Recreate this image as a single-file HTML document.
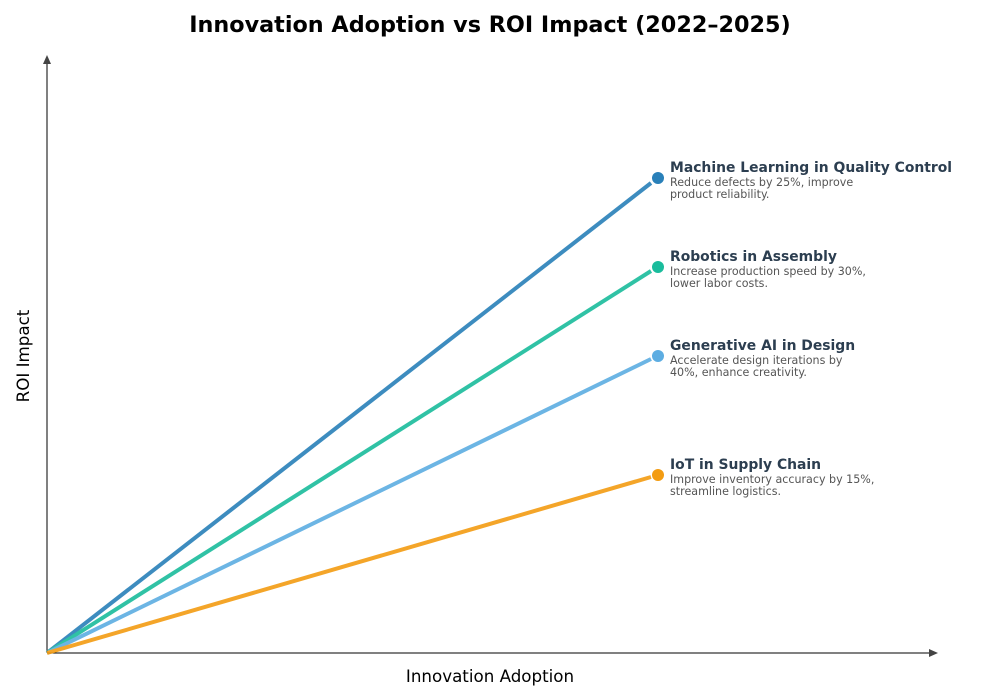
<!DOCTYPE html>
<html><head><meta charset="utf-8"><style>
body{margin:0;background:#fff}
svg{display:block;font-family:"DejaVu Sans","Liberation Sans",sans-serif}
.t{font-weight:bold;font-size:13.9px;fill:#2c3e50}
.d{font-size:11.1px;fill:#555}
</style></head><body>
<svg width="1000" height="700" viewBox="0 0 1000 700">
<text x="490" y="32" text-anchor="middle" font-size="22.3" font-weight="bold" fill="#000">Innovation Adoption vs ROI Impact (2022–2025)</text>
<line x1="47" y1="653" x2="47" y2="62" stroke="#000" stroke-width="1"/>
<polygon points="47,55 43,64 51,64" fill="#444"/>
<line x1="47" y1="653" x2="931" y2="653" stroke="#000" stroke-width="1"/>
<polygon points="938,653 929,649 929,657" fill="#444"/>
<text x="490" y="682" text-anchor="middle" font-size="16.7" fill="#000">Innovation Adoption</text>
<text transform="translate(29,356) rotate(-90)" text-anchor="middle" font-size="16.7" fill="#000">ROI Impact</text>
<g stroke-width="4" stroke-linecap="butt" opacity="0.9">
<line x1="47" y1="653" x2="651" y2="183" stroke="#2980b9"/>
<line x1="47" y1="653" x2="651" y2="271" stroke="#1abc9c"/>
<line x1="47" y1="653" x2="651" y2="359" stroke="#5dade2"/>
<line x1="47" y1="653" x2="651" y2="477" stroke="#f39c12"/>
</g>
<circle cx="658" cy="178" r="6" fill="#2980b9"/>
<circle cx="658" cy="267" r="6" fill="#1abc9c"/>
<circle cx="658" cy="356" r="6" fill="#5dade2"/>
<circle cx="658" cy="475" r="6" fill="#f39c12"/>
<text class="t" x="670" y="172">Machine Learning in Quality Control</text>
<text class="d" x="670" y="186">Reduce defects by 25%, improve</text>
<text class="d" x="670" y="198">product reliability.</text>
<text class="t" x="670" y="261">Robotics in Assembly</text>
<text class="d" x="670" y="275">Increase production speed by 30%,</text>
<text class="d" x="670" y="287">lower labor costs.</text>
<text class="t" x="670" y="350">Generative AI in Design</text>
<text class="d" x="670" y="364">Accelerate design iterations by</text>
<text class="d" x="670" y="376">40%, enhance creativity.</text>
<text class="t" x="670" y="469">IoT in Supply Chain</text>
<text class="d" x="670" y="483">Improve inventory accuracy by 15%,</text>
<text class="d" x="670" y="495">streamline logistics.</text>
</svg>
</body></html>
